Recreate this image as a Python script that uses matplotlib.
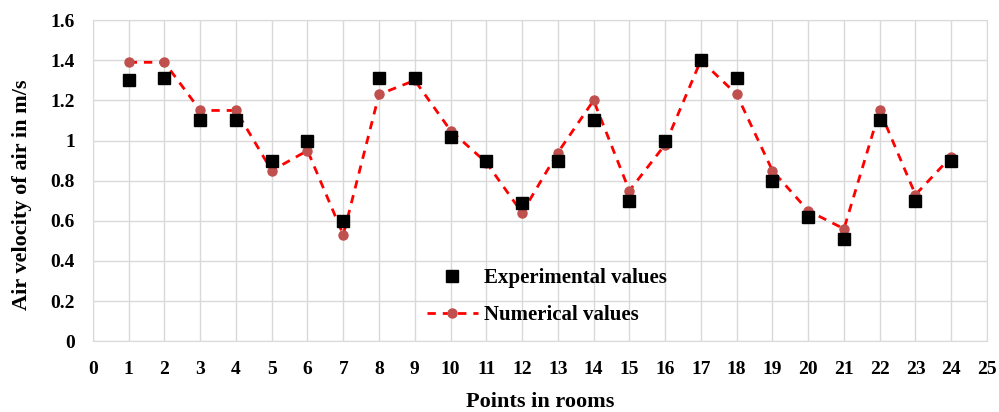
import matplotlib
matplotlib.use("Agg")
import matplotlib.pyplot as plt

points = list(range(1, 25))
experimental = [1.30, 1.31, 1.10, 1.10, 0.90, 1.00, 0.60, 1.31, 1.31, 1.02, 0.90, 0.69,
                0.90, 1.10, 0.70, 1.00, 1.40, 1.31, 0.80, 0.62, 0.51, 1.10, 0.70, 0.90]
numerical = [1.39, 1.39, 1.15, 1.15, 0.85, 0.95, 0.53, 1.23, 1.30, 1.05, 0.89, 0.64,
             0.94, 1.20, 0.75, 0.98, 1.40, 1.23, 0.85, 0.65, 0.56, 1.15, 0.73, 0.92]
xticks = list(range(0, 26))
yticks = [0, 0.2, 0.4, 0.6, 0.8, 1.0, 1.2, 1.4, 1.6]
ytick_labels = ["0", "0.2", "0.4", "0.6", "0.8", "1", "1.2", "1.4", "1.6"]

plt.rcParams['font.family'] = ['Liberation Serif', 'DejaVu Serif']
plt.rcParams['font.weight'] = 'bold'

fig = plt.figure(figsize=(9.99, 4.12), dpi=100)
ax = fig.add_axes([0.093, 0.172, 0.895, 0.779])

grid_c = '#d9d9d9'
ax.plot(points, numerical, linestyle=(0, (3, 2.5)), color='#ff0000', linewidth=2,
        marker='o', markersize=6.5, markerfacecolor='#c0504d', markeredgecolor='#c0504d',
        label='Numerical values', zorder=3)
ax.plot(points, experimental, linestyle='none', marker='s', markersize=8.5,
        color='black', label='Experimental values', zorder=4)

ax.set_xlim(0, 25)
ax.set_ylim(0, 1.6)
ax.set_xticks(xticks)
ax.set_xticklabels([str(t) for t in xticks], fontsize=14, fontweight='bold')
ax.set_yticks(yticks)
ax.set_yticklabels(ytick_labels, fontsize=14, fontweight='bold')
ax.grid(True, color=grid_c, linewidth=1)
ax.set_axisbelow(True)
for s in ax.spines.values():
    s.set_color(grid_c)
ax.tick_params(axis='x', length=0, pad=14)
ax.tick_params(axis='y', length=0, pad=13)

ax.set_xlabel('Points in rooms', fontsize=16, fontweight='bold')
ax.set_ylabel('Air velocity of air in m/s', fontsize=16, fontweight='bold')
ax.xaxis.set_label_coords(0.5, -(392 - 341) / 321)
ax.yaxis.set_label_coords(-(93 - 32) / 894, (341 - 195) / 321)

handles, labels = ax.get_legend_handles_labels()
leg = ax.legend(handles[::-1], labels[::-1], loc='upper left',
                bbox_to_anchor=((427 - 93) / 894, (341 - 268) / 321),
                frameon=False, prop={'family': 'Liberation Serif', 'weight': 'bold', 'size': 15},
                handlelength=2.45, handletextpad=0.27, labelspacing=0.8,
                borderpad=0, borderaxespad=0)

fig.savefig('out.png', dpi=100)
